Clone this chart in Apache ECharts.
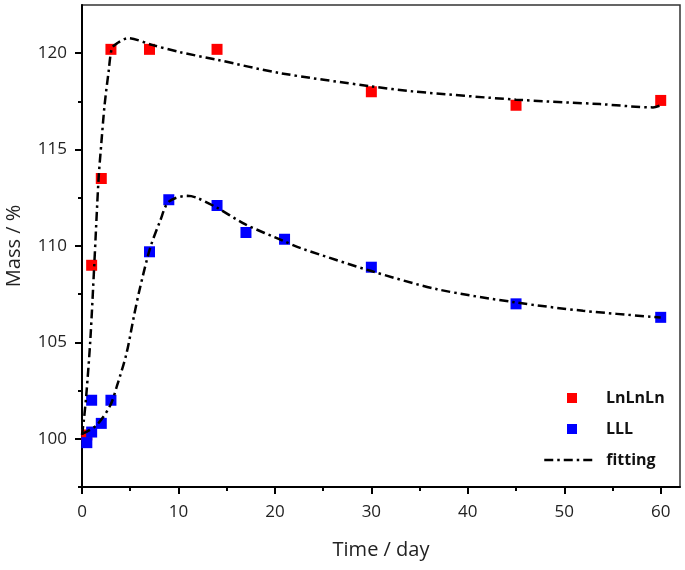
<!DOCTYPE html>
<html>
<head>
<meta charset="utf-8">
<script src="https://cdn.jsdelivr.net/npm/echarts@6/dist/echarts.min.js"></script>
<style>html,body{margin:0;padding:0;background:#fff}#c{width:685px;height:570px}</style>
</head>
<body>
<div id="c"></div>
<script>
// ---- data ----
const lnDays = [0.5, 1, 2, 3, 7, 14, 30, 45, 60];
const lnMass = [100.2, 109.0, 113.5, 120.2, 120.2, 120.2, 118.0, 117.3, 117.55];

const lDays = [0.5, 1, 1, 2, 3, 7, 9, 14, 17, 21, 30, 45, 60];
const lMass = [99.8, 100.35, 102.0, 100.8, 102.0, 109.7, 112.4, 112.1, 110.7, 110.35, 108.9, 107.0, 106.3];

const lnFitDays = [0, 0.2, 0.45, 0.86, 1.27, 1.72, 2.0, 2.34, 2.76, 3.1, 3.6, 4.8, 7.25, 10.2, 14, 20.5, 30, 34.3, 45, 53.7, 59.2, 60];
const lnFitMass = [100.2, 101.0, 102.3, 105.1, 109.0, 113.5, 115.3, 117.3, 119.05, 120.26, 120.5, 120.78, 120.43, 120.05, 119.66, 118.97, 118.28, 118.02, 117.59, 117.36, 117.19, 117.3];

const lFitDays = [0, 1.5, 2.9, 3.6, 4.6, 5.4, 6.0, 7.07, 8.1, 9.0, 10.9, 11.9, 13.95, 16.95, 20.9, 22.6, 30, 36.8, 45, 51.95, 60];
const lFitMass = [100.25, 100.7, 101.7, 102.7, 104.4, 106.4, 107.8, 109.9, 111.3, 112.3, 112.6, 112.5, 112.0, 111.12, 110.26, 109.9, 108.7, 107.76, 107.07, 106.64, 106.29];

const xMajor = [0, 10, 20, 30, 40, 50, 60];
const xMinor = [5, 15, 25, 35, 45, 55];
const yMajor = [100, 105, 110, 115, 120];
const yMinor = [97.5, 102.5, 107.5, 112.5, 117.5];

const seriesNames = ['LnLnLn', 'LLL', 'fitting'];
const xName = 'Time / day';
const yName = 'Mass / %';

function pairs(xs, ys) { return xs.map((x, i) => [x, ys[i]]); }

const FONT = '"Open Sans", "Noto Sans", sans-serif';
const chart = echarts.init(document.getElementById('c'));
chart.setOption({
  animation: false,
  backgroundColor: '#fff',
  grid: { left: 82, right: 5, top: 5, bottom: 83, show: true, borderColor: '#333', borderWidth: 1.5, outerBoundsMode: 'none', containLabel: false },
  legend: [
    {
      data: [seriesNames[0], seriesNames[1]],
      orient: 'vertical', left: 562, top: 385,
      itemWidth: 10, itemHeight: 10, itemGap: 15,
      icon: 'rect',
      textStyle: { fontFamily: FONT, fontSize: 16, fontWeight: 'bold', color: '#111', lineHeight: 16, padding: [0, 0, 0, 24] }
    },
    {
      data: [seriesNames[2]],
      orient: 'vertical', left: 538, top: 447,
      itemWidth: 52, itemHeight: 10,
      itemStyle: { opacity: 0 },
      lineStyle: { color: '#000', width: 2.5, type: [9, 4, 2.5, 4], opacity: 1 },
      textStyle: { fontFamily: FONT, fontSize: 16, fontWeight: 'bold', color: '#111', lineHeight: 16, padding: [0, 0, 0, 5] }
    }
  ],
  xAxis: [
    {
      type: 'value', min: 0, max: 62,
      name: xName, nameLocation: 'middle', nameGap: 53,
      nameTextStyle: { fontFamily: FONT, fontSize: 20, color: '#222' },
      axisLine: { show: true, onZero: false, lineStyle: { color: '#000', width: 2 } },
      axisTick: { show: true, customValues: xMajor, length: 7, lineStyle: { color: '#000', width: 2 } },
      axisLabel: { customValues: xMajor, margin: 17, fontFamily: FONT, fontSize: 17, color: '#222' },
      splitLine: { show: false }
    },
    {
      type: 'value', min: 0, max: 62, position: 'bottom',
      axisLine: { show: false, onZero: false },
      axisTick: { show: true, customValues: xMinor, length: 4, lineStyle: { color: '#000', width: 2 } },
      axisLabel: { show: false },
      splitLine: { show: false }
    }
  ],
  yAxis: [
    {
      type: 'value', min: 97.5, max: 122.5,
      name: yName, nameLocation: 'middle', nameGap: 58,
      nameTextStyle: { fontFamily: FONT, fontSize: 20, color: '#222' },
      axisLine: { show: true, onZero: false, lineStyle: { color: '#000', width: 2 } },
      axisTick: { show: true, customValues: yMajor, length: 7, lineStyle: { color: '#000', width: 2 } },
      axisLabel: { customValues: yMajor, margin: 15, fontFamily: FONT, fontSize: 17, color: '#222' },
      splitLine: { show: false }
    },
    {
      type: 'value', min: 97.5, max: 122.5, position: 'left',
      axisLine: { show: false, onZero: false },
      axisTick: { show: true, customValues: yMinor, length: 4, lineStyle: { color: '#000', width: 2 } },
      axisLabel: { show: false },
      splitLine: { show: false }
    }
  ],
  series: [
    {
      name: seriesNames[0], type: 'scatter', symbol: 'rect', symbolSize: 11,
      itemStyle: { color: '#ff0000', opacity: 1 }, data: pairs(lnDays, lnMass)
    },
    {
      name: seriesNames[1], type: 'scatter', symbol: 'rect', symbolSize: 11,
      itemStyle: { color: '#0000ff', opacity: 1 }, data: pairs(lDays, lMass)
    },
    {
      name: seriesNames[2], type: 'line', smooth: 0.3, symbol: 'none', showSymbol: false,
      lineStyle: { color: '#000', width: 2.5, type: [9, 4, 2.5, 4] },
      itemStyle: { color: '#000' },
      data: pairs(lnFitDays, lnFitMass)
    },
    {
      name: seriesNames[2], type: 'line', smooth: 0.3, symbol: 'none', showSymbol: false,
      lineStyle: { color: '#000', width: 2.5, type: [9, 4, 2.5, 4] },
      itemStyle: { color: '#000' },
      data: pairs(lFitDays, lFitMass)
    }
  ]
});
</script>
</body>
</html>
